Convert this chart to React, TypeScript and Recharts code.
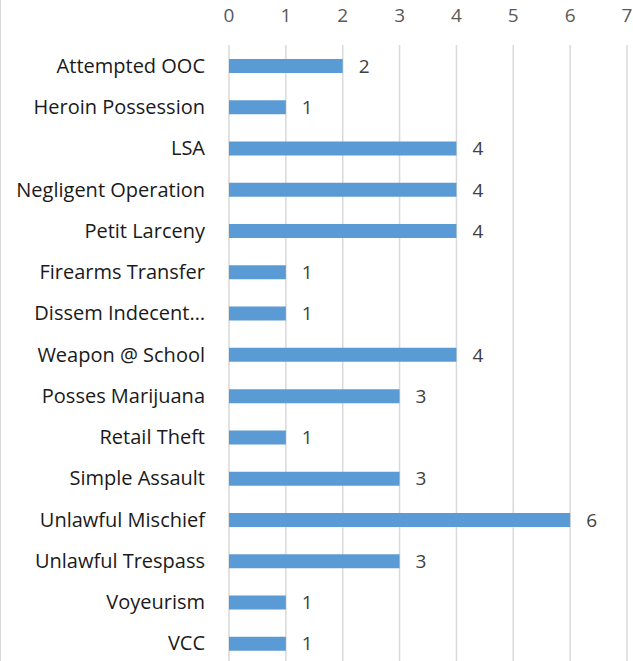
import React from 'react';
import {
  BarChart,
  Bar,
  XAxis,
  YAxis,
  CartesianGrid,
  LabelList
} from 'recharts';

const offenses = [
  'Attempted OOC',
  'Heroin Possession',
  'LSA',
  'Negligent Operation',
  'Petit Larceny',
  'Firearms Transfer',
  'Dissem Indecent…',
  'Weapon @ School',
  'Posses Marijuana',
  'Retail Theft',
  'Simple Assault',
  'Unlawful Mischief',
  'Unlawful Trespass',
  'Voyeurism',
  'VCC'
];

const counts = [2, 1, 4, 4, 4, 1, 1, 4, 3, 1, 3, 6, 3, 1, 1];

const xTicks = [0, 1, 2, 3, 4, 5, 6, 7];

const data = offenses.map((name, i) => ({ name, count: counts[i] }));

const font = '"Open Sans", "Liberation Sans", sans-serif';

export default function App() {
  return (
    <div
      style={{
        position: 'absolute',
        left: 0,
        top: 0,
        width: 633,
        height: 661,
        overflow: 'hidden',
        background: '#fff',
        fontFamily: font
      }}
    >
      <div style={{ position: 'absolute', left: 0, top: 0, width: 1, height: 661, background: '#d9d9d9' }} />
      <BarChart
        width={633}
        height={670}
        data={data}
        layout="vertical"
        margin={{ top: 0, right: 6, bottom: 6, left: 0 }}
        barCategoryGap="33%"
        style={{ overflow: 'visible' }}
      >
        <CartesianGrid horizontal={false} stroke="#d9d9d9" strokeWidth={1.5} />
        <XAxis
          type="number"
          orientation="top"
          domain={[0, 7]}
          ticks={xTicks}
          interval={0}
          height={45}
          axisLine={false}
          tickLine={false}
          tickMargin={17}
          tick={{ fill: '#595959', fontSize: 19, fontFamily: font }}
        />
        <YAxis
          type="category"
          dataKey="name"
          width={229}
          axisLine={false}
          tickLine={false}
          tickMargin={18}
          interval={0}
          tick={{ fill: '#1a1a1a', fontSize: 20, fontFamily: font }}
        />
        <Bar dataKey="count" fill="#5b9bd5" barSize={14} isAnimationActive={false}>
          <LabelList
            dataKey="count"
            position="right"
            offset={16}
            fill="#404040"
            fontSize={19}
            fontFamily={font}
          />
        </Bar>
      </BarChart>
    </div>
  );
}
